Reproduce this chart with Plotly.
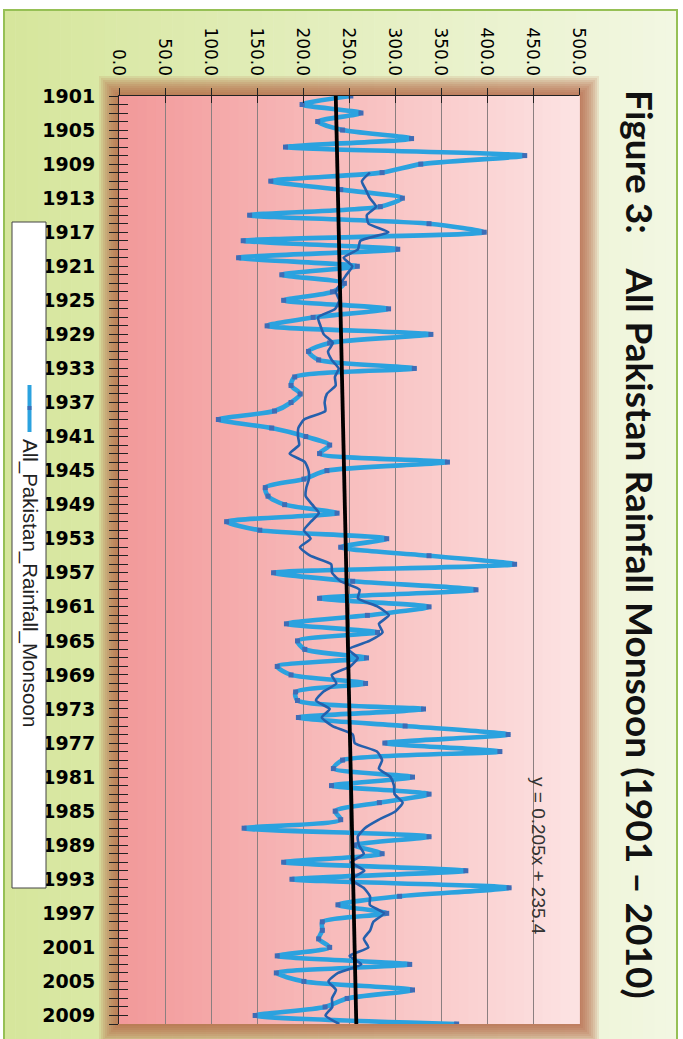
import plotly.graph_objects as go
import numpy as np
import pandas as pd

# ---------------- data ----------------
years = list(range(1901, 2011))
rainfall = [
    252, 199, 263, 216, 243, 318, 181, 441, 328, 286,   # 1901-1910
    165, 241, 308, 284, 142, 337, 397, 135, 303, 130,   # 1911-1920
    259, 177, 245, 232, 179, 293, 211, 161, 339, 229,   # 1921-1930
    206, 217, 321, 191, 187, 197, 187, 169, 108, 166,   # 1931-1940
    203, 229, 218, 357, 226, 201, 159, 162, 180, 237,   # 1941-1950
    117, 153, 291, 241, 337, 430, 168, 254, 388, 218,   # 1951-1960
    337, 270, 182, 281, 194, 202, 269, 172, 187, 268,   # 1961-1970
    192, 194, 331, 195, 311, 423, 289, 414, 243, 233,   # 1971-1980
    319, 231, 337, 283, 235, 241, 136, 337, 256, 286,   # 1981-1990
    179, 377, 188, 424, 305, 238, 291, 221, 221, 217,   # 1991-2000
    229, 172, 316, 171, 201, 319, 248, 224, 148, 367,   # 2001-2010
]
trend_slope = 0.205
trend_intercept = 235.4
ma_period = 10
value_ticks = [0, 50, 100, 150, 200, 250, 300, 350, 400, 450, 500]
year_label_step = 4
series_name = "All_Pakistan_Rainfall_Monsoon"
title_text = "Figure 3:\u00a0\u00a0\u00a0\u00a0All Pakistan Rainfall Monsoon (1901 \u2013 2010)"
trend_label = "y = 0.205x + 235.4"

# derived series
ma = pd.Series(rainfall).rolling(ma_period).mean().tolist()
trend = (trend_slope * np.arange(1, len(years) + 1) + trend_intercept).tolist()
year_text = [str(y) if (y - years[0]) % year_label_step == 0 else "" for y in years]

# ---------------- geometry helpers ----------------
W, H = 683, 1039
L, R, T, B = 119, 104, 96, 15
PW = W - L - R
PH = H - T - B


def px(x):
    return (x - L) / PW


def py(y):
    return 1 - (y - T) / PH


def lerp(c1, c2, t):
    return tuple(int(round(a + (b - a) * t)) for a, b in zip(c1, c2))


shapes = []

# outer light-green gradient panel
bg_left, bg_right = (214, 230, 156), (242, 247, 226)
n = 60
x0p, x1p = 4, 677
for i in range(n):
    a = x0p + (x1p - x0p) * i / n
    b = x0p + (x1p - x0p) * (i + 1) / n + 0.6
    c = lerp(bg_left, bg_right, i / (n - 1))
    shapes.append(dict(type="rect", xref="paper", yref="paper", layer="below",
                       x0=px(a), x1=px(b), y0=py(10), y1=py(H + 2),
                       fillcolor="rgb(%d,%d,%d)" % c, line=dict(width=0)))
shapes.append(dict(type="rect", xref="paper", yref="paper", layer="below",
                   x0=px(x0p), x1=px(x1p), y0=py(10), y1=py(H + 2),
                   fillcolor="rgba(0,0,0,0)", line=dict(color="rgb(150,192,85)", width=2)))

# brownish glow around the plot area
for d in range(20, 0, -2):
    shapes.append(dict(type="rect", xref="paper", yref="paper", layer="below",
                       x0=px(L - d), x1=px(L + PW + d), y0=py(T - d), y1=py(T + PH + d),
                       fillcolor="rgba(180,95,60,0.13)", line=dict(width=0)))

# pink gradient plot background
pk_left, pk_mid, pk_right = (242, 153, 154), (248, 190, 190), (252, 226, 226)
n2 = 50
for i in range(n2):
    t = i / (n2 - 1)
    c = lerp(pk_left, pk_mid, t * 2) if t < 0.5 else lerp(pk_mid, pk_right, (t - 0.5) * 2)
    shapes.append(dict(type="rect", xref="paper", yref="paper", layer="below",
                       x0=i / n2, x1=(i + 1) / n2 + 0.002, y0=0, y1=1,
                       fillcolor="rgb(%d,%d,%d)" % c, line=dict(width=0)))

# legend box (rotated legend)
shapes.append(dict(type="rect", xref="paper", yref="paper", layer="above",
                   x0=px(12), x1=px(46), y0=py(222), y1=py(888),
                   fillcolor="white", line=dict(color="#444444", width=1)))
shapes.append(dict(type="line", xref="paper", yref="paper", layer="above",
                   x0=px(29.5), x1=px(29.5), y0=py(385), y1=py(432),
                   line=dict(color="#2ba2df", width=4)))
shapes.append(dict(type="rect", xref="paper", yref="paper", layer="above",
                   x0=px(27.5), x1=px(31.5), y0=py(406), y1=py(410),
                   fillcolor="#3f6cb5", line=dict(width=0)))

fig = go.Figure()

fig.add_trace(go.Scatter(
    x=rainfall, y=years, mode="lines+markers", name=series_name,
    line=dict(color="#2ba2df", width=4.6, shape="spline", smoothing=0.7),
    marker=dict(symbol="square", size=5, color="#3f6cb5"),
    showlegend=False))
fig.add_trace(go.Scatter(
    x=ma, y=years, mode="lines", name="10 per. Mov. Avg.",
    line=dict(color="#2460ad", width=2.6, shape="spline", smoothing=0.5),
    showlegend=False))
fig.add_trace(go.Scatter(
    x=trend, y=years, mode="lines", name="Linear",
    line=dict(color="black", width=3.8), showlegend=False))
# empty trace to activate overlay axes (crossing tick marks)
fig.add_trace(go.Scatter(x=[], y=[], xaxis="x2", yaxis="y2", showlegend=False, hoverinfo="skip"))

fig.update_layout(
    width=W, height=H,
    margin=dict(l=L, r=R, t=T, b=B, autoexpand=False),
    paper_bgcolor="white", plot_bgcolor="rgba(0,0,0,0)",
    showlegend=False,
    shapes=shapes,
    xaxis=dict(range=[0, 500], side="top", tickvals=value_ticks, tickformat=".1f",
               tickangle=90, tickfont=dict(family="DejaVu Sans", size=17, color="black"),
               ticks="outside", ticklen=7, tickcolor="#222", tickwidth=1,
               ticklabelstandoff=6,
               showline=True, linecolor="#222", linewidth=1,
               showgrid=True, gridcolor="#8b7f80", gridwidth=1, zeroline=False,
               fixedrange=True),
    yaxis=dict(range=[2010, 1901], tickvals=years, ticktext=year_text,
               tickfont=dict(family="DejaVu Sans", size=19, color="black", weight="bold"),
               ticks="outside", ticklen=9, tickcolor="#222", tickwidth=1,
               ticklabelstandoff=10,
               showline=True, linecolor="#222", linewidth=1,
               showgrid=False, zeroline=False, fixedrange=True),
    xaxis2=dict(range=[0, 500], overlaying="x", side="top", anchor="y2",
                tickvals=value_ticks, showticklabels=False, ticks="inside", ticklen=7,
                tickcolor="#222", showgrid=False, zeroline=False, showline=False,
                fixedrange=True),
    yaxis2=dict(range=[2010, 1901], overlaying="y", side="left", anchor="x2",
                tickvals=years, showticklabels=False, ticks="inside", ticklen=9,
                tickcolor="#222", showgrid=False, zeroline=False, showline=False,
                fixedrange=True),
    annotations=[
        dict(text="<b>" + title_text + "</b>", textangle=90, xref="paper", yref="paper",
             x=px(641), y=py(544), xanchor="center", yanchor="middle", showarrow=False,
             font=dict(family="Lato", size=37, color="#111111")),
        dict(text=trend_label, textangle=90, xref="paper", yref="paper",
             x=px(539), y=py(856), xanchor="center", yanchor="middle", showarrow=False,
             font=dict(family="Liberation Sans", size=19, color="#333333")),
        dict(text=series_name, textangle=90, xref="paper", yref="paper",
             x=px(30), y=py(583), xanchor="center", yanchor="middle", showarrow=False,
             font=dict(family="Liberation Sans", size=20.5, color="#222222")),
    ],
)

fig.write_html("out.html", config={"displayModeBar": False},
               post_script="document.body.style.margin='0px';")
